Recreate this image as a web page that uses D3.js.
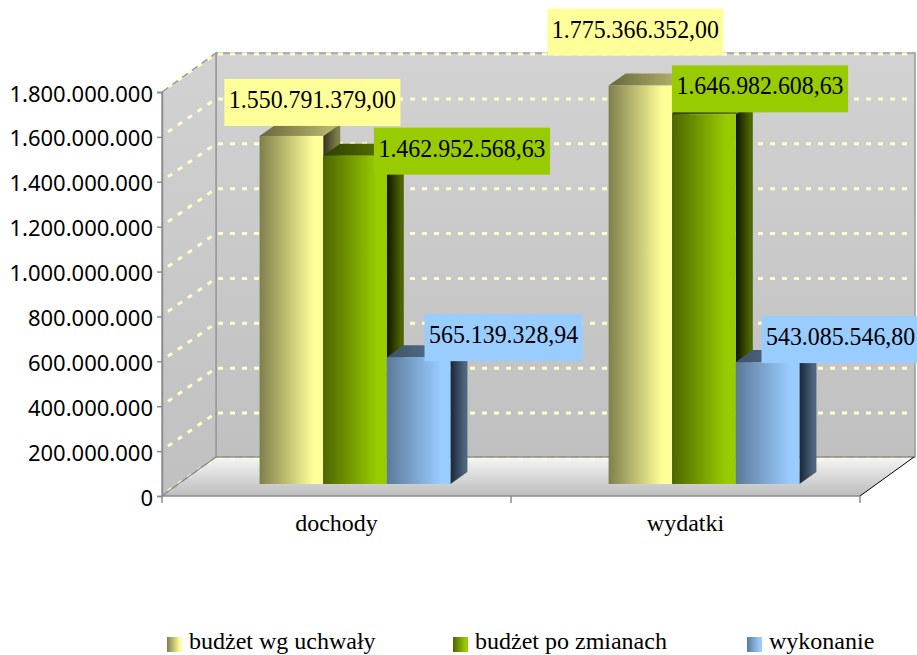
<!DOCTYPE html>
<html>
<head>
<meta charset="utf-8">
<script src="https://cdn.jsdelivr.net/npm/d3@7"></script>
<style>
	html, body { margin: 0; padding: 0; background: #fff; overflow: hidden; }
	.value { font-family: "Liberation Serif", serif; font-size: 25px; fill: #000; }
	.cat { font-family: "Liberation Serif", serif; font-size: 24px; fill: #000; }
	.leg { font-family: "Liberation Serif", serif; font-size: 24px; fill: #000; }
	.y-axis text { font-family: "Noto Sans", sans-serif; font-size: 22px; fill: #000; }
</style>
</head>
<body>
<div class="chart"></div>
<script>
const categories = ['dochody', 'wydatki'];
const seriesNames = ['budżet wg uchwały', 'budżet po zmianach', 'wykonanie'];
const uchwala = [1550791379.00, 1775366352.00];
const poZmianach = [1462952568.63, 1646982608.63];
const wykonanie = [565139328.94, 543085546.80];
const yTicks = [0, 200000000, 400000000, 600000000, 800000000, 1000000000, 1200000000, 1400000000, 1600000000, 1800000000];

const seriesValues = [uchwala, poZmianach, wykonanie];

// colours per series: front dark/light, side dark/light, top dark/light
const palette = [
	{label: '#ffff99', front: ['#7f7f4c', '#ffff99'], side: ['#33331f', '#7f7f4c'], top: ['#66663d', '#b3b36b']},
	{label: '#99cc00', front: ['#4d6600', '#99cc00'], side: ['#0f1400', '#4d6600'], top: ['#2e3d00', '#5c7a00']},
	{label: '#99ccff', front: ['#5c7a99', '#99ccff'], side: ['#1a2633', '#4d6680'], top: ['#3d5166', '#5c7a99']}
];

// hand placed data labels, offset from centre of bar / top of bar
const labelOffsets = [
	[{dx: 21, dy: -10}, {dx: -5, dy: -30}],
	[{dx: 107, dy: 19}, {dx: 56, dy: -2}],
	[{dx: 85, dy: 4}, {dx: 73, dy: 1}]
];

const width = 917, height = 655;
const front = {left: 162, right: 860, bottom: 496, top: 92};
const wallDx = 54, wallDy = 39;
const barDx = 17, barDy = 12;   // depth of a bar
const barInsetX = 18.5, barInsetY = 12;  // bars stand a little behind the front edge
const barW = 63.6;

const pl = d3.formatLocale({decimal: ',', thousands: '.', grouping: [3], currency: ['', '']});
const fmtLabel = pl.format(',.2f');
const fmtTick = pl.format(',');

const yScale = d3.scaleLinear().domain([0, 1800000000]).range([front.bottom, front.top]);
const xScale = d3.scaleBand().domain(categories).range([front.left, front.right]);
const xInner = d3.scaleBand().domain(d3.range(seriesNames.length))
	.range([-barW * 1.5, barW * 1.5]);

const svg = d3.select('.chart').append('svg')
	.attr('width', width)
	.attr('height', height)
	.style('display', 'block');

const defs = svg.append('defs');

function gradient(id, colors, vertical) {
	const g = defs.append('linearGradient')
		.attr('id', id)
		.attr('x1', 0).attr('y1', 0)
		.attr('x2', vertical ? 0 : 1).attr('y2', vertical ? 1 : 0);
	g.append('stop').attr('offset', '0%').attr('stop-color', colors[0]);
	g.append('stop').attr('offset', vertical ? '100%' : '85%').attr('stop-color', colors[1]);
}

palette.forEach((p, i) => {
	gradient('front' + i, p.front);
	gradient('side' + i, p.side);
	gradient('top' + i, p.top);
});
gradient('wall', ['#d2d2d2', '#c0c0c0'], true);
gradient('floor', ['#f6f6f6', '#bcbcbc'], true);

const poly = pts => pts.map(p => p.join(',')).join(' ');

const x0 = front.left, x1 = front.right, yb = front.bottom, yt = front.top;

// back wall, side wall, floor
svg.append('polygon')
	.attr('points', poly([[x0 + wallDx, yt - wallDy], [x1 + wallDx + 1, yt - wallDy], [x1 + wallDx + 1, yb - wallDy], [x0 + wallDx, yb - wallDy]]))
	.attr('fill', 'url(#wall)')
	.attr('stroke', '#999').attr('stroke-width', 1.5);
svg.append('polygon')
	.attr('points', poly([[x0, yt], [x0 + wallDx, yt - wallDy], [x0 + wallDx, yb - wallDy], [x0, yb]]))
	.attr('fill', 'url(#wall)')
	.attr('stroke', '#999').attr('stroke-width', 1.5);
svg.append('polygon')
	.attr('points', poly([[x0, yb], [x0 + wallDx, yb - wallDy], [x1 + wallDx, yb - wallDy], [x1, yb]]))
	.attr('fill', 'url(#floor)');

// grid lines on the walls
const grid = svg.append('g')
	.attr('fill', 'none')
	.attr('stroke', '#ffffcc')
	.attr('stroke-width', 3)
	.attr('stroke-dasharray', '5 7');

grid.selectAll('.gridBack')
	.data(yTicks)
	.enter()
	.append('line')
	.attr('class', 'gridBack')
	.attr('x1', x0 + wallDx + 2)
	.attr('x2', x1 + wallDx - 2)
	.attr('y1', d => yScale(d) - wallDy + 1)
	.attr('y2', d => yScale(d) - wallDy + 1);

grid.selectAll('.gridSide')
	.data(yTicks)
	.enter()
	.append('line')
	.attr('class', 'gridSide')
	.attr('x1', x0 + 6)
	.attr('x2', x0 + wallDx - 3)
	.attr('y1', d => yScale(d) - 5)
	.attr('y2', d => yScale(d) - wallDy + 3);

// floor edges
svg.append('line')
	.attr('x1', x0 + wallDx).attr('x2', x1 + wallDx + 1)
	.attr('y1', yb - wallDy).attr('y2', yb - wallDy)
	.attr('stroke', '#8c8c8c').attr('stroke-width', 1.5);
svg.append('line')
	.attr('x1', x0).attr('y1', yb)
	.attr('x2', x0 + wallDx).attr('y2', yb - wallDy)
	.attr('stroke', '#8c8c8c').attr('stroke-width', 1.5);
svg.append('line')
	.attr('x1', x1).attr('y1', yb)
	.attr('x2', x1 + wallDx).attr('y2', yb - wallDy)
	.attr('stroke', '#000').attr('stroke-width', 1);

// bars
const barData = [];
categories.forEach((c, ci) => {
	seriesValues.forEach((vals, si) => {
		barData.push({cat: c, ci: ci, si: si, value: vals[ci]});
	});
});

const barX = d => xScale(d.cat) + xScale.bandwidth() / 2 + barInsetX + xInner(d.si);
const barTop = d => yScale(d.value) - barInsetY;
const barBottom = yScale(0) - barInsetY;

const bars = svg.selectAll('.bar')
	.data(barData)
	.enter()
	.append('g')
	.attr('class', 'bar');

bars.append('polygon')
	.attr('fill', d => `url(#side${d.si})`)
	.attr('points', d => {
		const r = barX(d) + barW;
		return poly([[r, barTop(d)], [r + barDx, barTop(d) - barDy], [r + barDx, barBottom - barDy], [r, barBottom]]);
	});

bars.append('polygon')
	.attr('fill', d => `url(#top${d.si})`)
	.attr('points', d => {
		const l = barX(d);
		return poly([[l, barTop(d)], [l + barDx, barTop(d) - barDy], [l + barW + barDx, barTop(d) - barDy], [l + barW, barTop(d)]]);
	});

bars.append('rect')
	.attr('x', barX)
	.attr('y', barTop)
	.attr('width', barW)
	.attr('height', d => barBottom - barTop(d))
	.attr('fill', d => `url(#front${d.si})`);

// front axis line + ticks
const xAxisG = svg.append('g').attr('stroke', '#8c8c8c').attr('stroke-width', 1.5);
xAxisG.append('line')
	.attr('x1', x0).attr('x2', x1)
	.attr('y1', yb).attr('y2', yb);
xAxisG.selectAll('.xtick')
	.data([x0, x0 + xScale.bandwidth(), x1])
	.enter()
	.append('line')
	.attr('class', 'xtick')
	.attr('x1', d => d).attr('x2', d => d)
	.attr('y1', yb).attr('y2', yb + 7);

const yAxis = d3.axisLeft(yScale)
	.tickValues(yTicks)
	.tickFormat(fmtTick)
	.tickSize(5)
	.tickPadding(4);

const yG = svg.append('g')
	.attr('class', 'y-axis')
	.attr('transform', `translate(${x0},0)`)
	.call(yAxis);
yG.selectAll('path, line').attr('stroke', '#8c8c8c').attr('stroke-width', 1.5);
yG.selectAll('text').attr('dy', '0.41em');

svg.selectAll('.cat')
	.data(categories)
	.enter()
	.append('text')
	.attr('class', 'cat')
	.attr('x', d => xScale(d) + xScale.bandwidth() / 2)
	.attr('y', 531)
	.attr('text-anchor', 'middle')
	.text(d => d);

// data labels
const labels = svg.selectAll('.value-label')
	.data(barData)
	.enter()
	.append('g')
	.attr('class', 'value-label');

const labelH = 47;
const labelSqueeze = 0.955;  // the original type is a bit narrower than it is tall
labels.each(function(d) {
	const g = d3.select(this);
	const off = labelOffsets[d.si][d.ci];
	const cx = barX(d) + barW / 2 + off.dx;
	const bottom = barTop(d) + off.dy;
	const rect = g.append('rect').attr('fill', palette[d.si].label);
	const t = g.append('text')
		.attr('class', 'value')
		.attr('text-anchor', 'middle')
		.attr('transform', `translate(${cx},${bottom - 18}) scale(${labelSqueeze},1)`)
		.text(fmtLabel(d.value));
	const w = t.node().getComputedTextLength() * labelSqueeze + 9;
	rect.attr('x', cx - w / 2)
		.attr('y', bottom - labelH)
		.attr('width', w)
		.attr('height', labelH);
});

// legend
const legendX = [167, 453, 747];
const legend = svg.selectAll('.legend')
	.data(seriesNames)
	.enter()
	.append('g')
	.attr('class', 'legend')
	.attr('transform', (d, i) => `translate(${legendX[i]},637)`);

legend.append('rect')
	.attr('width', 15)
	.attr('height', 15)
	.attr('fill', (d, i) => `url(#front${i})`);

legend.append('text')
	.attr('class', 'leg')
	.attr('x', 22)
	.attr('y', 12)
	.text(d => d);
</script>
</body>
</html>
